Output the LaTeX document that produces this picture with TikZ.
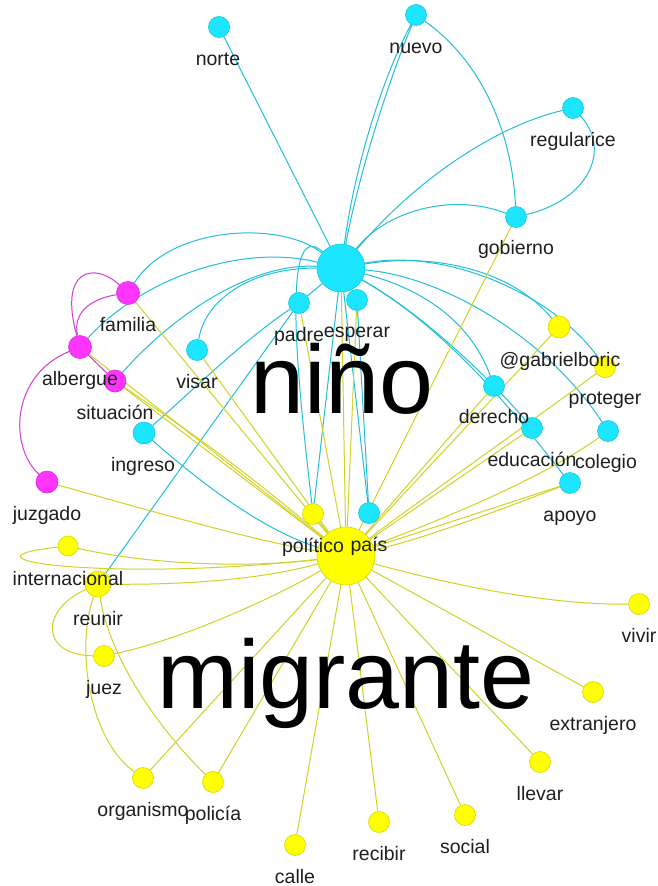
\documentclass[tikz,border=0pt]{standalone}
\usepackage{fontspec}
\setmainfont{Liberation Sans}
\definecolor{cyF}{HTML}{1CE6FF}
\definecolor{cyB}{HTML}{17C6DD}
\definecolor{cyE}{HTML}{22BFD8}
\definecolor{yeF}{HTML}{FFFF00}
\definecolor{yeB}{HTML}{D6D600}
\definecolor{yeE}{HTML}{D2D224}
\definecolor{mgF}{HTML}{FF34FF}
\definecolor{mgB}{HTML}{D92CD9}
\definecolor{mgE}{HTML}{D23AD2}
\pgfdeclarelayer{edges}
\pgfsetlayers{edges,main}
\begin{document}
\begin{tikzpicture}[x=1pt,y=-1pt,
  cnode/.style={circle,fill=cyF,draw=cyB,line width=0.6pt,minimum size=21pt,inner sep=0pt},
  ynode/.style={circle,fill=yeF,draw=yeB,line width=0.6pt,minimum size=21pt,inner sep=0pt},
  mnode/.style={circle,fill=mgF,draw=mgB,line width=0.6pt,minimum size=23pt,inner sep=0pt},
  cedge/.style={draw=cyE,line width=1pt},
  yedge/.style={draw=yeE,line width=1pt},
  medge/.style={draw=mgE,line width=1pt},
  lbl/.style={anchor=base,inner sep=0pt,font=\fontsize{19.5}{19.5}\selectfont,text=black!88},
  big/.style={anchor=base,inner sep=0pt,font=\fontsize{97}{97}\selectfont,text=black}]
\useasboundingbox (0,0) rectangle (657,886);

% hubs
\node[cnode,minimum size=48pt] (N) at (341,268) {};
\node[ynode,minimum size=58pt] (M) at (346,556) {};

% cyan nodes
\node[cnode] (norte) at (219,27) {};
\node[cnode] (nuevo) at (416,15) {};
\node[cnode] (regularice) at (573,108) {};
\node[cnode] (gobierno) at (516,217) {};
\node[cnode] (padre) at (299,303) {};
\node[cnode] (esperar) at (357,300) {};
\node[cnode] (visar) at (197,350) {};
\node[cnode,minimum size=22pt] (ingreso) at (144,433) {};
\node[cnode] (derecho) at (494,386) {};
\node[cnode] (educacion) at (532,428) {};
\node[cnode] (colegio) at (608,431) {};
\node[cnode] (apoyo) at (570,483) {};
\node[cnode] (pais) at (369,513) {};

% magenta nodes
\node[mnode] (familia) at (128,293) {};
\node[mnode] (albergue) at (80,347) {};
\node[mnode,minimum size=22pt] (situacion) at (115,381) {};
\node[mnode,minimum size=22pt] (juzgado) at (47,482) {};

% yellow nodes
\node[ynode,minimum size=22pt] (gabriel) at (559,327) {};
\node[ynode] (proteger) at (605,367) {};
\node[ynode] (politico) at (313,514) {};
\node[ynode,minimum size=20pt] (intl) at (68,546) {};
\node[ynode,minimum size=26pt] (reunir) at (98,584) {};
\node[ynode] (juez) at (104,656) {};
\node[ynode] (organismo) at (143,778) {};
\node[ynode] (policia) at (213,782) {};
\node[ynode] (calle) at (295,845) {};
\node[ynode] (recibir) at (379,822) {};
\node[ynode] (social) at (465,815) {};
\node[ynode] (llevar) at (540,762) {};
\node[ynode] (extranjero) at (593,692) {};
\node[ynode] (vivir) at (639,604) {};

\begin{pgfonlayer}{edges}
\fill[white] (0,0) rectangle (657,886);
% cyan edges
\draw[cedge] (N) -- (norte);
\draw[cedge] (N) .. controls (356,160) and (384,75) .. (nuevo);
\draw[cedge] (N) .. controls (361,165) and (390,78) .. (nuevo);
\draw[cedge] (N) .. controls (420,175) and (500,125) .. (regularice);
\draw[cedge] (N) .. controls (385,212) and (450,192) .. (gobierno);
\draw[cedge] (nuevo) .. controls (480,60) and (512,130) .. (gobierno);
\draw[cedge] (regularice) .. controls (612,150) and (588,200) .. (gobierno);
\draw[cedge] (N) .. controls (280,220) and (170,226) .. (familia);
\draw[cedge] (N) .. controls (240,243) and (140,280) .. (albergue);
\draw[cedge] (N) .. controls (250,262) and (170,318) .. (situacion);
\draw[cedge] (N) .. controls (250,268) and (205,300) .. (visar);
\draw[cedge] (N) -- (padre);
\draw[cedge] (N) -- (esperar);
\draw[cedge] (padre) .. controls (240,343) and (190,393) .. (ingreso);
\draw[cedge] (padre) -- (reunir);
\draw[cedge] (ingreso) .. controls (200,482) and (262,530) .. (M);
\draw[cedge] (N) -- (politico);
\draw[cedge] (N) .. controls (278,212) and (300,400) .. (politico);
\draw[cedge] (esperar) -- (pais);
\draw[cedge] (N) -- (pais);
\draw[cedge] (N) .. controls (430,253) and (510,268) .. (gabriel);
\draw[cedge] (N) .. controls (440,248) and (550,290) .. (proteger);
\draw[cedge] (N) .. controls (440,276) and (545,335) .. (colegio);
\draw[cedge] (N) .. controls (420,288) and (470,320) .. (derecho);
\draw[cedge] (N) .. controls (430,318) and (500,390) .. (educacion);
\draw[cedge] (N) .. controls (450,330) and (520,420) .. (apoyo);
% magenta edges
\draw[medge] (familia) .. controls (95,262) and (58,268) .. (albergue);
\draw[medge] (familia) .. controls (95,298) and (72,310) .. (albergue);
\draw[medge] (albergue) .. controls (12,375) and (8,445) .. (juzgado);
\draw[medge] (albergue) -- (situacion);
% yellow edges
\draw[yedge] (familia) -- (M);
\draw[yedge] (albergue) -- (M);
\draw[yedge] (situacion) -- (M);
\draw[yedge] (situacion) to[bend left=3] (M);
\draw[yedge] (juzgado) .. controls (130,505) and (250,540) .. (M);
\draw[yedge] (visar) -- (M);
\draw[yedge] (padre) -- (M);
\draw[yedge] (esperar) -- (M);
\draw[yedge] (N) -- (M);
\draw[yedge] (politico) -- (M);
\draw[yedge] (gobierno) -- (M);
\draw[yedge] (gabriel) -- (M);
\draw[yedge] (proteger) .. controls (520,430) and (420,500) .. (M);
\draw[yedge] (derecho) -- (M);
\draw[yedge] (educacion) -- (M);
\draw[yedge] (colegio) .. controls (540,480) and (440,520) .. (M);
\draw[yedge] (apoyo) .. controls (500,510) and (420,540) .. (M);
\draw[yedge] (apoyo) -- (M);
\draw[yedge] (intl) .. controls (150,565) and (250,568) .. (M);
\draw[yedge] (intl) .. controls (-60,560) and (120,582) .. (M);
\draw[yedge] (reunir) .. controls (180,585) and (260,580) .. (M);
\draw[yedge] (reunir) .. controls (40,610) and (40,655) .. (juez);
\draw[yedge] (juez) .. controls (180,640) and (270,600) .. (M);
\draw[yedge] (reunir) .. controls (75,650) and (90,740) .. (organismo);
\draw[yedge] (reunir) .. controls (110,660) and (160,730) .. (policia);
\draw[yedge] (organismo) -- (M);
\draw[yedge] (policia) -- (M);
\draw[yedge] (calle) -- (M);
\draw[yedge] (recibir) -- (M);
\draw[yedge] (social) -- (M);
\draw[yedge] (llevar) -- (M);
\draw[yedge] (extranjero) -- (M);
\draw[yedge] (vivir) .. controls (560,605) and (470,590) .. (M);
\end{pgfonlayer}

% labels
\node[lbl] (l-norte) at (218,65) {norte};
\node[lbl] (l-nuevo) at (416,53) {nuevo};
\node[lbl] (l-regularice) at (573,146) {regularice};
\node[lbl] (l-gobierno) at (516,254) {gobierno};
\node[lbl] (l-padre) at (299,341) {padre};
\node[lbl] (l-esperar) at (357,337) {esperar};
\node[lbl] (l-visar) at (197,388) {visar};
\node[lbl] (l-ingreso) at (143,471) {ingreso};
\node[lbl] (l-derecho) at (494,423) {derecho};
\node[lbl] (l-educacion) at (532,466) {educación};
\node[lbl] (l-colegio) at (606,468) {colegio};
\node[lbl] (l-apoyo) at (570,521) {apoyo};
\node[lbl] (l-pais) at (369,551) {país};
\node[lbl] (l-familia) at (128,331) {familia};
\node[lbl] (l-albergue) at (80,385) {albergue};
\node[lbl] (l-situacion) at (115,419) {situación};
\node[lbl] (l-juzgado) at (47,520) {juzgado};
\node[lbl] (l-gabriel) at (560,366) {@gabrielboric};
\node[lbl] (l-proteger) at (605,404) {proteger};
\node[lbl] (l-politico) at (313,552) {político};
\node[lbl] (l-intl) at (68,585) {internacional};
\node[lbl] (l-reunir) at (98,625) {reunir};
\node[lbl] (l-juez) at (104,694) {juez};
\node[lbl] (l-organismo) at (143,816) {organismo};
\node[lbl] (l-policia) at (213,820) {policía};
\node[lbl] (l-calle) at (295,883) {calle};
\node[lbl] (l-recibir) at (379,860) {recibir};
\node[lbl] (l-social) at (465,853) {social};
\node[lbl] (l-llevar) at (540,800) {llevar};
\node[lbl] (l-extranjero) at (593,730) {extranjero};
\node[lbl] (l-vivir) at (639,642) {vivir};

\node[big] (l-N) at (342,413) {niño};
\node[big] (l-M) at (346,708) {migrante};
\end{tikzpicture}
\end{document}
